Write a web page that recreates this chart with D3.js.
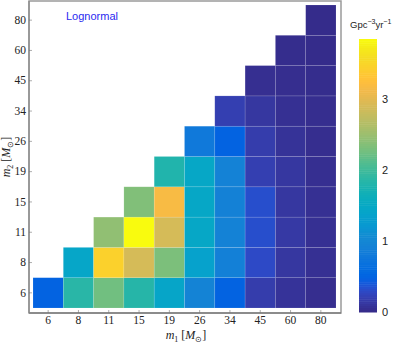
<!DOCTYPE html>
<html><head><meta charset="utf-8">
<script src="https://cdn.jsdelivr.net/npm/d3@7"></script>
<style>body{margin:0;background:#fff}svg{display:block}</style>
</head><body>
<svg id="c" width="399" height="344"></svg>
<script>
// categories (m1 along x, m2 along y)
const m1Labels = ["6","8","11","15","19","26","34","45","60","80"];
const m2Labels = ["6","8","11","15","19","26","34","45","60","80"];
// rate values, rows = m2 (bottom→top), columns = m1 starting at the diagonal
const row6  = [0.49, 1.86, 2.26, 1.84, 1.43, 0.95, 0.49, 0.18, 0.09, 0.04];
const row8  = [1.44, 3.46, 2.90, 2.32, 1.37, 0.90, 0.30, 0.12, 0.06];
const row11 = [2.44, 3.85, 2.90, 1.47, 0.93, 0.33, 0.14, 0.06];
const row15 = [2.35, 3.18, 1.47, 0.92, 0.33, 0.12, 0.06];
const row19 = [1.80, 1.47, 0.93, 0.20, 0.12, 0.05];
const row26 = [0.80, 0.49, 0.18, 0.085, 0.04];
const row34 = [0.20, 0.12, 0.06, 0.04];
const row45 = [0.05, 0.04, 0.03];
const row60 = [0.03, 0.02];
const row80 = [0.02];
const rows = [row6,row8,row11,row15,row19,row26,row34,row45,row60,row80];
const cbTicks = [0,1,2,3];
const cbMax = 3.85;

const parula = [[0.2081,0.1663,0.5292],[0.2116,0.1898,0.5777],[0.2123,0.2138,0.6270],[0.2081,0.2386,0.6771],[0.1959,0.2645,0.7279],[0.1707,0.2919,0.7792],[0.1253,0.3242,0.8303],[0.0591,0.3598,0.8683],[0.0117,0.3875,0.8820],[0.0060,0.4086,0.8828],[0.0165,0.4266,0.8786],[0.0329,0.4430,0.8720],[0.0498,0.4586,0.8641],[0.0629,0.4737,0.8554],[0.0723,0.4887,0.8467],[0.0779,0.5040,0.8384],[0.0793,0.5200,0.8312],[0.0749,0.5375,0.8263],[0.0641,0.5570,0.8240],[0.0488,0.5772,0.8228],[0.0343,0.5966,0.8199],[0.0265,0.6137,0.8135],[0.0239,0.6287,0.8038],[0.0231,0.6418,0.7913],[0.0228,0.6535,0.7768],[0.0267,0.6642,0.7607],[0.0384,0.6743,0.7436],[0.0590,0.6838,0.7254],[0.0843,0.6928,0.7062],[0.1133,0.7015,0.6859],[0.1453,0.7098,0.6646],[0.1801,0.7177,0.6424],[0.2178,0.7250,0.6193],[0.2586,0.7317,0.5954],[0.3022,0.7376,0.5712],[0.3482,0.7424,0.5473],[0.3953,0.7459,0.5244],[0.4420,0.7481,0.5033],[0.4871,0.7491,0.4840],[0.5300,0.7491,0.4661],[0.5709,0.7485,0.4494],[0.6099,0.7473,0.4337],[0.6473,0.7456,0.4188],[0.6834,0.7435,0.4044],[0.7184,0.7411,0.3905],[0.7525,0.7384,0.3768],[0.7858,0.7356,0.3633],[0.8185,0.7327,0.3498],[0.8507,0.7299,0.3360],[0.8824,0.7274,0.3217],[0.9139,0.7258,0.3063],[0.9450,0.7261,0.2886],[0.9739,0.7314,0.2666],[0.9938,0.7455,0.2403],[0.9990,0.7653,0.2164],[0.9955,0.7861,0.1967],[0.9880,0.8066,0.1794],[0.9789,0.8271,0.1633],[0.9697,0.8481,0.1475],[0.9626,0.8705,0.1309],[0.9589,0.8949,0.1132],[0.9598,0.9218,0.0948],[0.9661,0.9514,0.0755],[0.9763,0.9831,0.0538]]
  .map(c=>d3.rgb(c[0]*255,c[1]*255,c[2]*255).formatHex());
const color = d3.scaleLinear().domain(parula.map((_,i)=>i/(parula.length-1)*cbMax)).range(parula).interpolate(d3.interpolateRgb).clamp(true);

const cells = [];
rows.forEach((r,ri)=>r.forEach((v,k)=>cells.push({m1:m1Labels[ri+k], m2:m2Labels[ri], v})));

const svg = d3.select("#c");
const x = d3.scaleBand().domain(m1Labels).range([33,336]);
const y = d3.scaleBand().domain(m2Labels.slice().reverse()).range([5,308]);

svg.append("g").selectAll("rect").data(cells).join("rect")
  .attr("x",d=>x(d.m1)).attr("y",d=>y(d.m2))
  .attr("width",x.bandwidth()).attr("height",y.bandwidth())
  .attr("fill",d=>color(d.v))
  .attr("stroke","rgba(255,255,255,0.2)").attr("stroke-width",0.6);

// frame
svg.append("rect").attr("x",29).attr("y",1).attr("width",312).attr("height",312)
  .attr("fill","none").attr("stroke","#9a9a9a").attr("stroke-width",1.5);
svg.append("line").attr("x1",29).attr("x2",341).attr("y1",313).attr("y2",313).attr("stroke","#666").attr("stroke-width",1.2);
svg.append("line").attr("x1",29).attr("x2",29).attr("y1",1).attr("y2",313).attr("stroke","#888").attr("stroke-width",1.2);

// axes
const xa = svg.append("g").attr("transform","translate(0,313)")
  .call(d3.axisBottom(x).tickSize(-3).tickPadding(3));
const ya = svg.append("g").attr("transform","translate(29,0)")
  .call(d3.axisLeft(y).tickSize(-3).tickPadding(3));
[xa,ya].forEach(a=>{
  a.select(".domain").remove();
  a.selectAll(".tick line").attr("stroke","#777").attr("stroke-width",0.6);
  a.selectAll("text").attr("font-family","'Liberation Serif','DejaVu Serif',serif").attr("font-size",11.5).attr("fill","#222");
});

// axis titles
function massLabel(g, sub){
  const t = g.append("text").attr("font-family","'Liberation Serif',serif").attr("font-size",12).attr("fill","#222").attr("text-anchor","middle");
  t.append("tspan").attr("font-style","italic").text("m");
  t.append("tspan").attr("font-size",8).attr("dy",3).text(sub);
  t.append("tspan").attr("dy",-3).text(" [");
  t.append("tspan").attr("font-style","italic").text("M");
  t.append("tspan").attr("font-size",8).attr("dy",3).text("⊙");
  t.append("tspan").attr("dy",-3).text("]");
  return t;
}
massLabel(svg.append("g").attr("transform","translate(186,339)"),"1");
massLabel(svg.append("g").attr("transform","translate(10,157) rotate(-90)"),"2");

// label
svg.append("text").attr("x",66).attr("y",20).attr("font-family","'Liberation Sans',Arial,sans-serif")
  .attr("font-size",11).attr("fill","#2a2af0").text("Lognormal");

// colorbar
const cy = d3.scaleLinear().domain([0,cbMax]).range([312,39]);
const steps = d3.range(0,128);
svg.append("g").selectAll("rect").data(steps).join("rect")
  .attr("x",359).attr("width",18)
  .attr("y",i=>cy((i+1)/128*cbMax)).attr("height",i=>cy(i/128*cbMax)-cy((i+1)/128*cbMax)+0.5)
  .attr("fill",i=>color((i+0.5)/128*cbMax));
const cb = svg.append("g").attr("transform","translate(377,0)")
  .call(d3.axisRight(cy).tickValues(cbTicks).tickFormat(d3.format("d")).tickSize(0).tickPadding(5));
cb.select(".domain").remove();
cb.selectAll("text").attr("font-family","'Liberation Sans',Arial,sans-serif").attr("font-size",11).attr("fill","#222");

const ct = svg.append("text").attr("x",350).attr("y",28).attr("font-family","'Liberation Sans',Arial,sans-serif").attr("font-size",9.5).attr("fill","#222");
ct.append("tspan").text("Gpc");
ct.append("tspan").attr("font-size",7).attr("dy",-4).text("−3");
ct.append("tspan").attr("dy",4).text("yr");
ct.append("tspan").attr("font-size",7).attr("dy",-4).text("−1");
</script>
</body></html>
